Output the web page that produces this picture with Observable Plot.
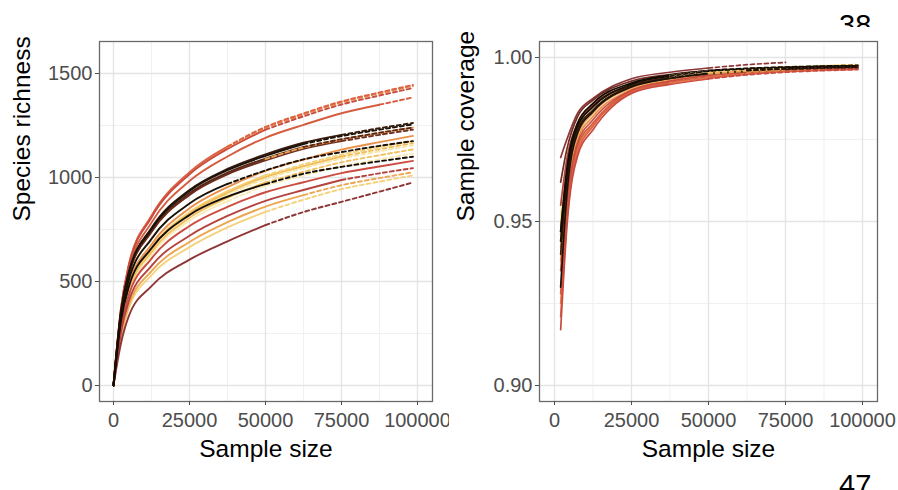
<!DOCTYPE html>
<html><head><meta charset="utf-8">
<script src="https://cdn.jsdelivr.net/npm/d3@7"></script>
<script src="https://cdn.jsdelivr.net/npm/@observablehq/plot@0.6"></script>
<style>
body{margin:0;background:#fff;font-family:"Liberation Sans",Arial,sans-serif}
#wrap{position:relative;width:898px;height:490px;overflow:hidden;background:#fff}
#row{display:flex;position:absolute;left:0;top:0}
.clip{position:absolute;overflow:hidden}
.clip div{position:absolute;left:0;font-size:29px;line-height:1;color:#000;white-space:nowrap}
</style></head><body>
<div id="wrap"><div id="row"></div>
<div class="clip" style="left:839px;top:0;width:50px;height:27px"><div style="top:11px">38</div></div>
<div class="clip" style="left:839px;top:440px;width:50px;height:50px"><div style="top:31px">47</div></div>
</div>
<script>
// ---- data ----
const curveIds = ["p1","p2","y1","y2","y3","y4","o1","o2","o3","o4","r1","r2","r3","r4","r5","r6","d1","d2","d3","d4","d5","d6"];
const curveColors = ["#f8e6a6","#f9ebb5","#f5d37a","#f1c060","#f0bd5c","#f4d27c","#eba04c","#e9914b","#eda651","#e8854a","#dc6443","#d65c40","#c84b40","#cb4d42","#b5423e","#8e3536","#6e2e22","#5a2818","#3a1c0e","#1d1208","#1a1005","#140c04"];
// observed sample size: solid up to here, dashed (extrapolated) beyond
const observedN = [37500,37500,50000,50000,75000,50000,50000,98500,62500,37500,37500,87500,50000,98500,75000,50000,75000,62500,75000,62500,37500,50000];

const richnessX = [0,2500,5000,12500,25000,37500,50000,62500,75000,87500,98500];
const richness = [
  [0,300,462,653,820,918,993,1045,1091,1126,1155],
  [0,290,446,630,792,886,959,1009,1054,1087,1115],
  [0,306,470,664,834,934,1011,1063,1110,1146,1175],
  [0,295,454,641,806,902,976,1027,1073,1107,1135],
  [0,303,466,658,827,926,1002,1054,1101,1136,1165],
  [0,235,370,530,665,760,835,893,944,980,1010],
  [0,350,530,740,918,1018,1088,1144,1182,1214,1240],
  [0,312,480,678,852,954,1032,1086,1134,1170,1200],
  [0,245,385,550,690,785,860,915,963,997,1025],
  [0,374,576,814,1022,1145,1238,1303,1361,1404,1440],
  [0,376,578,816,1026,1149,1243,1308,1366,1409,1445],
  [0,360,554,783,983,1101,1191,1253,1309,1350,1385],
  [0,372,572,808,1015,1137,1230,1294,1351,1394,1430],
  [0,281,432,610,767,859,929,977,1021,1053,1080],
  [0,260,405,575,720,815,888,940,988,1020,1045],
  [0,205,332,478,605,693,771,834,883,932,976],
  [0,350,529,738,916,1015,1082,1138,1175,1205,1230],
  [0,353,533,744,924,1023,1091,1147,1184,1215,1240],
  [0,360,543,757,940,1041,1111,1167,1205,1237,1262],
  [0,358,540,753,935,1035,1104,1161,1199,1230,1255],
  [0,335,505,705,875,969,1034,1087,1122,1152,1175],
  [0,314,473,660,820,908,968,1018,1051,1078,1100]
];

const coverageX = [2000,4000,7500,12500,25000,37500,50000,62500,75000,87500,98500];
const coverage = [
  [0.950,0.967,0.980,0.9855,0.9918,0.9942,0.9957,0.9964,0.9970,0.9975,0.9978],
  [0.952,0.968,0.980,0.9858,0.9920,0.9944,0.9958,0.9966,0.9971,0.9976,0.9979],
  [0.948,0.966,0.979,0.9850,0.9915,0.9940,0.9955,0.9962,0.9968,0.9973,0.9976],
  [0.946,0.965,0.979,0.9850,0.9914,0.9939,0.9954,0.9962,0.9968,0.9974,0.9977],
  [0.946,0.965,0.979,0.9850,0.9914,0.9938,0.9953,0.9961,0.9967,0.9972,0.9975],
  [0.949,0.966,0.979,0.9850,0.9915,0.9940,0.9955,0.9962,0.9967,0.9971,0.9974],
  [0.944,0.962,0.977,0.9835,0.9908,0.9934,0.9950,0.9958,0.9964,0.9969,0.9972],
  [0.938,0.958,0.975,0.9820,0.9902,0.9930,0.9946,0.9955,0.9962,0.9967,0.9970],
  [0.942,0.960,0.976,0.9830,0.9908,0.9933,0.9948,0.9956,0.9962,0.9966,0.9969],
  [0.925,0.951,0.972,0.9795,0.9895,0.9922,0.9938,0.9950,0.9958,0.9963,0.9966],
  [0.921,0.950,0.971,0.9790,0.9893,0.9920,0.9937,0.9949,0.9957,0.9961,0.9964],
  [0.928,0.953,0.973,0.9800,0.9898,0.9924,0.9940,0.9951,0.9959,0.9963,0.9966],
  [0.917,0.948,0.970,0.9780,0.9890,0.9918,0.9935,0.9947,0.9955,0.9960,0.9963],
  [0.935,0.956,0.974,0.9810,0.9900,0.9928,0.9945,0.9954,0.9960,0.9964,0.9966],
  [0.955,0.969,0.980,0.9855,0.9915,0.9937,0.9952,0.9958,0.9963,0.9966,0.9968],
  [0.9695,0.975,0.983,0.9875,0.9935,0.9955,0.9968,0.9978,0.9985,null,null],
  [0.962,0.972,0.982,0.9870,0.9928,0.9948,0.9960,0.9966,0.9970,0.9972,0.9974],
  [0.947,0.965,0.979,0.9850,0.9915,0.9939,0.9953,0.9961,0.9966,0.9970,0.9972],
  [0.940,0.962,0.978,0.9840,0.9912,0.9936,0.9950,0.9958,0.9964,0.9968,0.9970],
  [0.930,0.958,0.977,0.9835,0.9910,0.9937,0.9952,0.9960,0.9965,0.9969,0.9971],
  [0.944,0.964,0.979,0.9850,0.9918,0.9943,0.9958,0.9965,0.9970,0.9973,0.9975],
  [0.947,0.966,0.980,0.9860,0.9922,0.9946,0.9960,0.9967,0.9971,0.9974,0.9976]
];

const xMajor = [0,25000,50000,75000,100000];
const xMinor = [12500,37500,62500,87500];
const richMajor = [0,500,1000,1500];
const richMinor = [250,750,1250];
const covMajor = [0.90,0.95,1.00];
const covMinor = [0.925,0.975];

// ---- build rows ----
const lastX = 98500;
function rows(xs, table) {
  const solid = [], dashed = [];
  table.forEach((vals, i) => {
    xs.forEach((x, j) => {
      const v = vals[j];
      if (v == null) return;
      const r = {id: curveIds[i], color: curveColors[i], x, y: v};
      if (x <= observedN[i]) solid.push(r);
      if (x >= observedN[i] && observedN[i] < lastX) dashed.push(r);
    });
  });
  return {solid, dashed};
}
const R = rows(richnessX, richness);
const C = rows(coverageX, coverage);

const font = "Liberation Sans, Arial, Helvetica, sans-serif";
const tickCol = "#4d4d4d";

function panel(o) {
  return Plot.plot({
    width: 449, height: 460,
    marginLeft: o.ml, marginRight: o.mr, marginTop: 41, marginBottom: 59,
    x: {domain: o.xd},
    y: {domain: o.yd},
    color: {type: "identity"},
    style: {fontFamily: font, background: "white", overflow: "visible"},
    marks: [
      Plot.gridX(xMinor, {stroke: "#efefef", strokeOpacity: 1, strokeWidth: 0.9}),
      Plot.gridY(o.yMinor, {stroke: "#efefef", strokeOpacity: 1, strokeWidth: 0.9}),
      Plot.gridX(xMajor, {stroke: "#e4e4e4", strokeOpacity: 1, strokeWidth: 1.3}),
      Plot.gridY(o.yMajor, {stroke: "#e4e4e4", strokeOpacity: 1, strokeWidth: 1.3}),
      Plot.line(o.data.solid, {x: "x", y: "y", z: "id", stroke: "color", strokeWidth: o.sw, curve: "monotone-x"}),
      Plot.line(o.data.dashed, {x: "x", y: "y", z: "id", stroke: "color", strokeWidth: o.sw, strokeDasharray: "4,3", curve: "monotone-x"}),
      Plot.frame({stroke: "#6a6a6a", strokeWidth: 1.3}),
      Plot.axisX(xMajor, {tickSize: 4, tickPadding: 7, fontSize: 20, color: tickCol, tickFormat: d => String(d), label: null}),
      Plot.axisY(o.yMajor, {tickSize: 4, tickPadding: 3, fontSize: 20, color: tickCol, tickFormat: o.yfmt, label: null}),
      Plot.text(["Sample size"], {frameAnchor: "bottom", dy: 55, fontSize: 24.5, fill: "#000"}),
      Plot.text([o.ylab], {frameAnchor: "left", dx: o.ydx, rotate: -90, fontSize: 24.5, fill: "#000"})
    ]
  });
}

const left = panel({
  ml: 99, mr: 17, xd: [-4605, 104934], yd: [-76.9, 1653.8],
  yMajor: richMajor, yMinor: richMinor, yfmt: d => String(d),
  data: R, sw: 1.9, ylab: "Species richness", ydx: -77
});
const right = panel({
  ml: 90, mr: 21, xd: [-4870, 104870], yd: [0.895122, 1.004878],
  yMajor: covMajor, yMinor: covMinor, yfmt: d3.format(".2f"),
  data: C, sw: 1.7, ylab: "Sample coverage", ydx: -73
});
const row = document.getElementById("row");
row.appendChild(left);
row.appendChild(right);
</script>
</body></html>
